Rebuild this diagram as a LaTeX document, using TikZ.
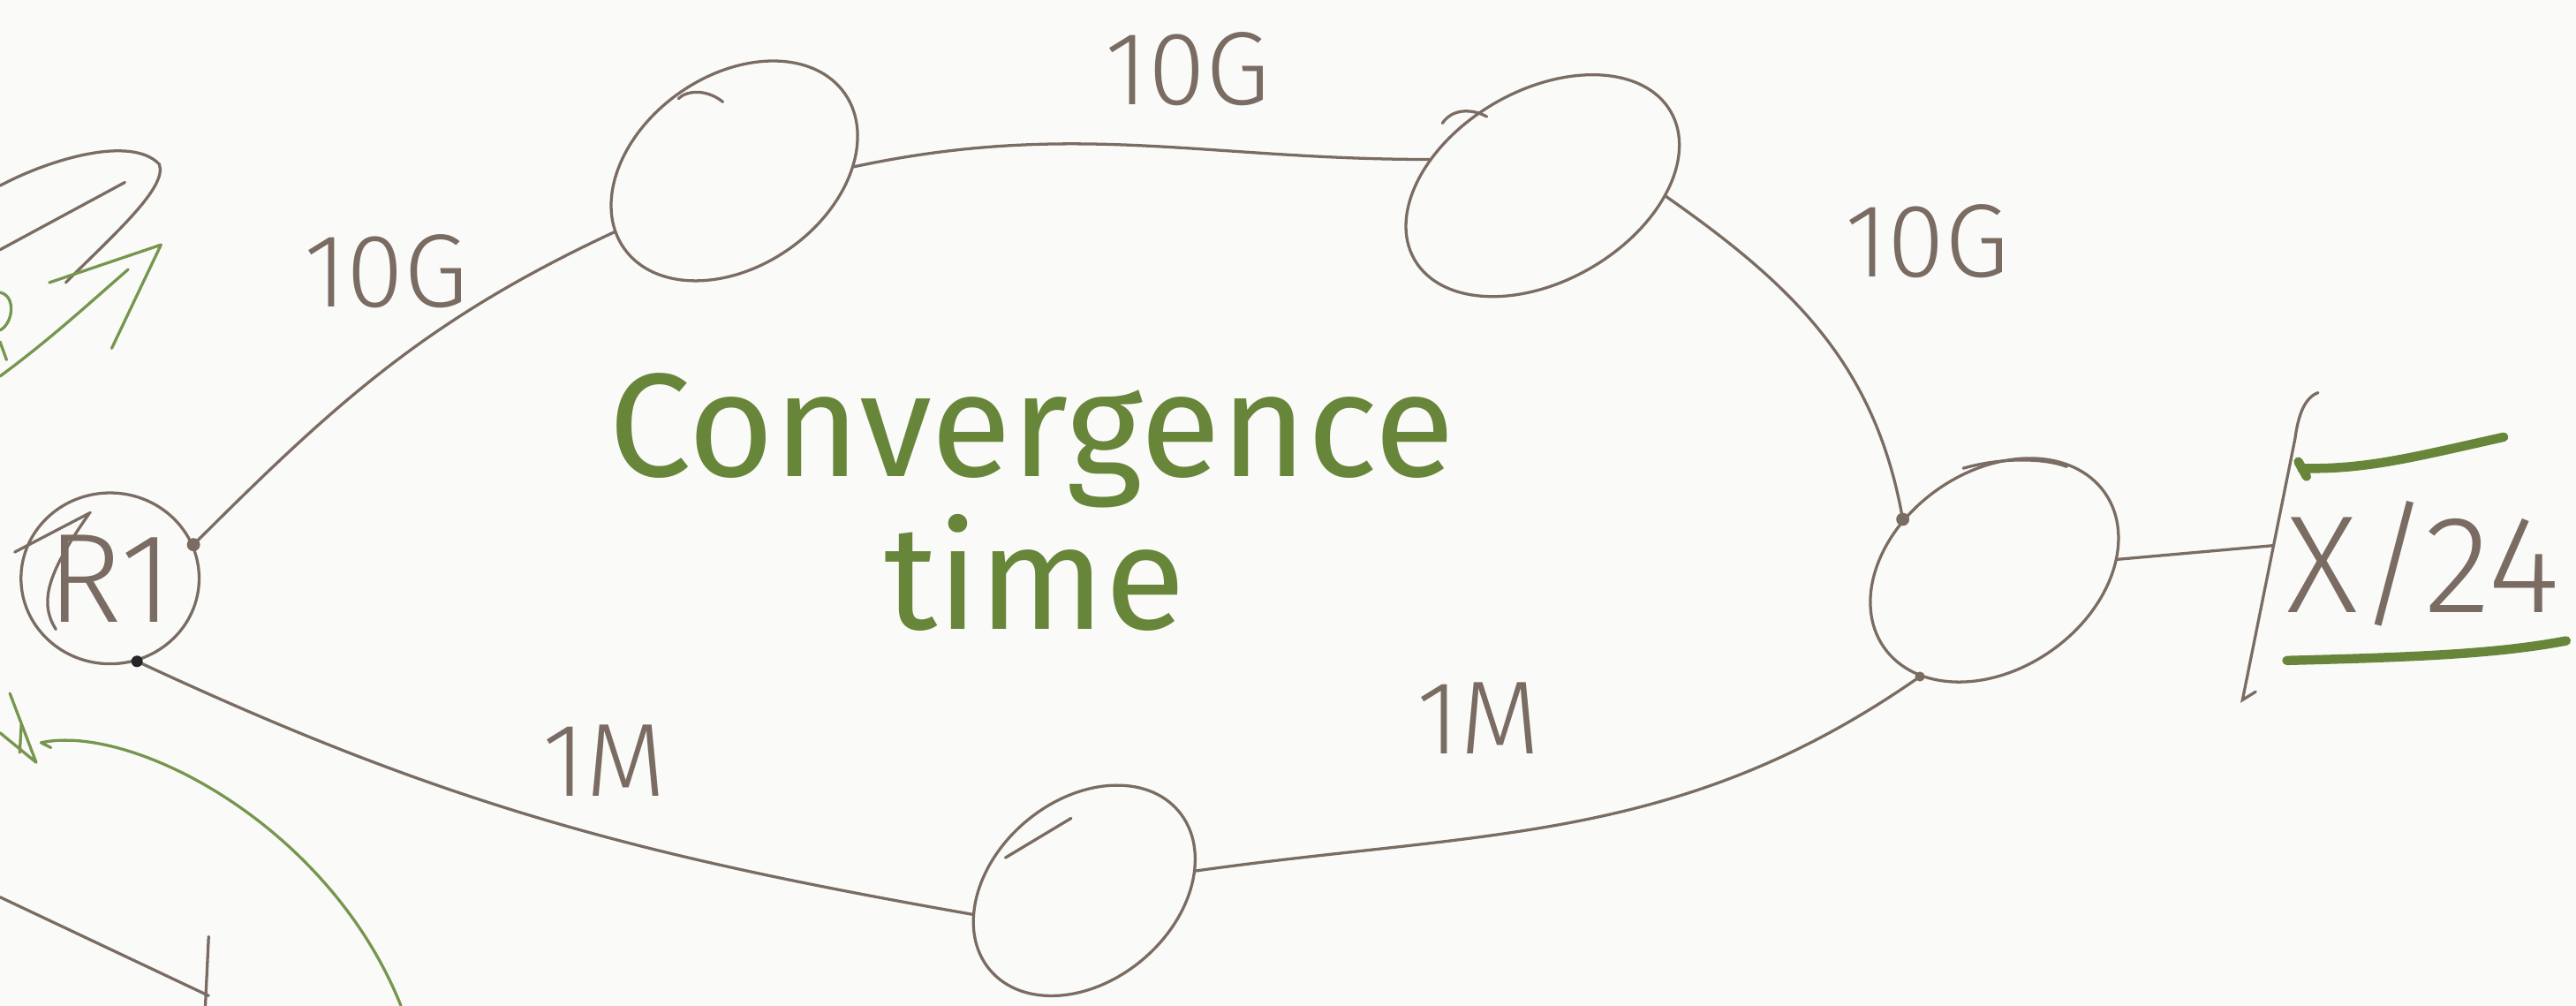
\documentclass[tikz,border=0pt]{standalone}
\usepackage{fontspec}
\setmainfont{Fira Sans}
\newfontfamily\thinhand{Fira Sans Light}
\usepackage{tikz}
\usetikzlibrary{arrows.meta, positioning, shapes.geometric, calc}
\definecolor{sketchbrown}{RGB}{122,108,98}
\definecolor{sketchgreen}{RGB}{104,134,58}
\definecolor{sketchleaf}{RGB}{118,150,78}
\definecolor{sketchpaper}{RGB}{250,250,248}

\begin{document}
\begin{tikzpicture}[x=0.01cm, y=0.01cm,
  router/.style={draw=sketchbrown, line width=0.5pt, ellipse, inner sep=0pt},
  link/.style={draw=sketchbrown, line width=0.5pt, line cap=round},
  rate/.style={text=sketchbrown, font=\thinhand\fontsize{18}{20}\selectfont},
  title/.style={anchor=base, text=sketchgreen, font=\fontsize{25.5}{30}\selectfont},
  ink/.style={draw=sketchgreen, line width=1.6pt, line cap=round},
  twig/.style={draw=sketchleaf, line width=0.5pt, line cap=round, line join=round}]

  % Paper
  \fill[sketchpaper] (0,0) rectangle (1568,612);
  \useasboundingbox (0,0) rectangle (1568,612);

  % Routers
  \node[router, minimum width=1.04cm, minimum height=1.04cm, text=sketchbrown,
        font=\thinhand\fontsize{22}{24}\selectfont] (r1) at (67,260) {R1};
  \node[router, minimum width=1.64cm, minimum height=1.16cm, rotate=35] (a) at (447,508) {};
  \node[router, minimum width=1.80cm, minimum height=1.16cm, rotate=30] (b) at (939,499) {};
  \node[router, minimum width=1.64cm, minimum height=1.20cm, rotate=35] (c) at (1214,265) {};
  \node[router, minimum width=1.50cm, minimum height=1.10cm, rotate=40] (d) at (660,70) {};

  % Pen overshoots on the circles
  \draw[link] (9,276) -- (55,300);
  \draw[link] (34,229) .. controls (24,245) and (28,262) .. (54,299);
  \draw[link] (413,552) .. controls (418,557) and (430,558) .. (440,550);
  \draw[link] (878,537) .. controls (884,546) and (896,546) .. (905,541);
  \draw[link] (1195,327) .. controls (1220,334) and (1245,333) .. (1258,328);
  \draw[link] (612,90) -- (652,114);

  % Links
  \draw[link] (r1.22) to[out=45, in=205] (a.172);
  \draw[link] (a.-33) to[out=12, in=180] (b.137);
  \draw[link] (b.-35) to[out=-35, in=100] (c.116);
  \draw[link] (c.200) to[out=215, in=8] (d.-30);
  \draw[link] (r1.-72) to[out=-25, in=170] (d.152);

  % Pen knots where links meet
  \fill[sketchbrown] (r1.22) circle (4);
  \fill[black!85] (r1.-72) circle (3.5);
  \fill[sketchbrown] (c.116) circle (4);
  \fill[sketchbrown] (c.200) circle (3);

  % Link rates
  \foreach \nm/\x/\y/\txt in {lra/235/447/10G, lab/723/570/10G, lbc/1173/465/10G,
                              lrd/368/149/1M, lcd/900/175/1M}
    \node[rate] (\nm) at (\x,\y) {\txt};

  % Prefix on the right
  \coordinate (port) at (1384,280);
  \draw[link] (c.-30) -- (port);
  \draw[link] (1411,373) .. controls (1403,370) and (1399,360) .. (1397,345)
    -- (1365,186) -- (1373,191);
  \node[rate, font=\thinhand\fontsize{24}{26}\selectfont] (pfx) at (1475,269) {X/24};
  \draw[ink] (1524,346) .. controls (1470,334) and (1440,326) .. (1401,327);
  \draw[ink] (1399,331) -- (1404,322);
  \draw[ink] (1392,210) .. controls (1470,212) and (1520,214) .. (1562,222);

  % Title in the middle
  \node[title] (conv) at (628,322) {Convergence};
  \node[title] (time) at (630,229) {time};

  % Cut-off scribbles at the left edge
  \draw[link] (0,499) .. controls (30,515) and (80,530) .. (97,512)
    .. controls (102,498) and (70,470) .. (40,440);
  \draw[link] (0,460) -- (76,501);
  \draw[twig] (0,383) .. controls (30,405) and (55,428) .. (78,448);
  \draw[twig] (30,440) -- (98,463) -- (68,400);
  \draw[twig] (0,434) .. controls (10,432) and (8,415) .. (0,411);
  \draw[twig] (0,404) -- (4,393);
  \draw[twig] (6,190) -- (22,148) -- (0,166);
  \draw[twig] (13,171) -- (12,154);
  \draw[twig] (31,157) -- (25,160) .. controls (80,172) and (200,110) .. (244,0);
  \draw[link] (0,66) -- (127,6);
  \draw[link] (127,42) -- (125,0);

\end{tikzpicture}
\end{document}
